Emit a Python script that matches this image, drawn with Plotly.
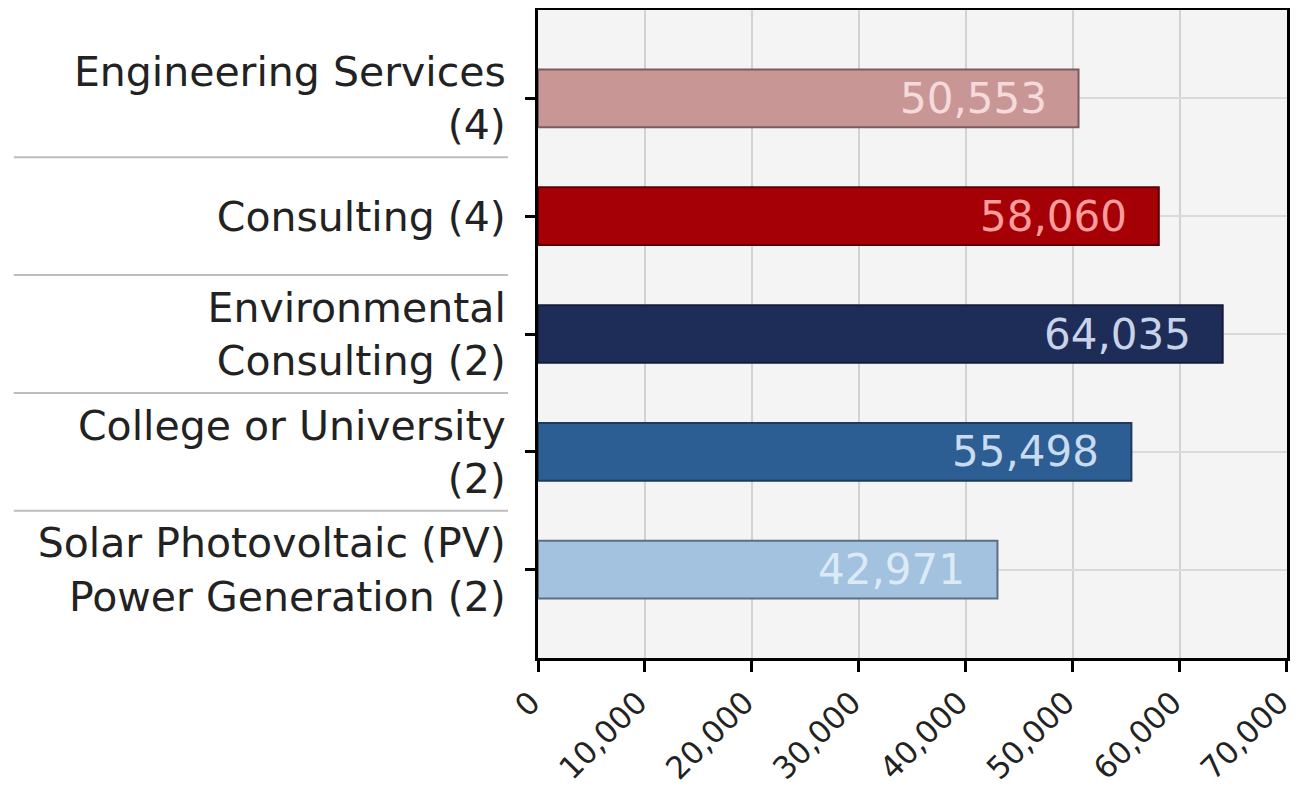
import plotly.graph_objects as go

categories = [
    "Engineering Services<br>(4)",
    "Consulting (4)",
    "Environmental<br>Consulting (2)",
    "College or University<br>(2)",
    "Solar Photovoltaic (PV)<br>Power Generation (2)",
]
values = [50553, 58060, 64035, 55498, 42971]
value_labels = ["50,553", "58,060", "64,035", "55,498", "42,971"]
x_ticks = [0, 10000, 20000, 30000, 40000, 50000, 60000, 70000]
x_tick_labels = ["0", "10,000", "20,000", "30,000", "40,000", "50,000", "60,000", "70,000"]

bar_colors = ["#C99696", "#A50006", "#1E2C58", "#2C5D93", "#A2C2DF"]
bar_line_colors = ["#7A5C5E", "#5C0006", "#141C3A", "#1E3A5C", "#5E6E80"]
label_colors = ["#F4DADA", "#FF9C9C", "#C9D3E8", "#C9DBEF", "#DCEAF6"]

fig = go.Figure()
fig.add_trace(go.Bar(
    y=categories,
    x=values,
    orientation="h",
    width=0.49,
    marker=dict(color=bar_colors, line=dict(color=bar_line_colors, width=2)),
    showlegend=False,
    hoverinfo="skip",
))

for cat, v, lab, col in zip(categories, values, value_labels, label_colors):
    fig.add_annotation(
        x=v, y=cat, xref="x", yref="y",
        text=lab, showarrow=False,
        xanchor="right", yanchor="middle", xshift=-30,
        font=dict(family="DejaVu Sans", size=42, color=col),
    )

# label-area separators between categories
for i in range(len(categories) - 1):
    fig.add_shape(
        type="line", xref="paper", yref="y",
        x0=-0.70, x1=-0.04, y0=i + 0.5, y1=i + 0.5,
        line=dict(color="#BDBDBD", width=2), layer="below",
    )

fig.update_layout(
    width=1294, height=786,
    margin=dict(l=530, r=15, t=2, b=136, autoexpand=False),
    paper_bgcolor="white",
    plot_bgcolor="#F4F4F4",
    font=dict(family="DejaVu Sans", color="#222222"),
    bargap=0.5,
)
fig.update_xaxes(
    range=[0, 70050],
    tickvals=x_ticks, ticktext=x_tick_labels,
    tickangle=-45,
    tickfont=dict(size=31, color="#222222"),
    ticklabeloverflow="allow",
    ticklabelshift=-7,
    showgrid=True, gridcolor="#D2D2D2", gridwidth=2,
    zeroline=False, automargin=False,
    showline=True, linecolor="black", linewidth=3, mirror=True,
    ticks="outside", ticklen=11, tickwidth=3, tickcolor="black",
)
fig.update_yaxes(
    categoryorder="array", categoryarray=categories,
    range=[4.75, -0.75], automargin=False,
    tickfont=dict(size=41, color="#222222"),
    showgrid=True, gridcolor="#DADADA", gridwidth=2,
    showline=True, linecolor="black", linewidth=3, mirror=True,
    ticks="outside", ticklen=10, tickwidth=3, tickcolor="black",
    ticklabelstandoff=11,
)

fig.write_html("out.html")
